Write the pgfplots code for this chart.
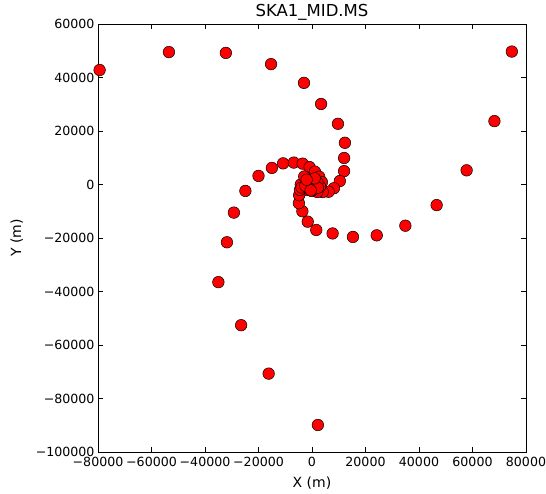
\documentclass[border=0pt]{standalone}
\usepackage{fontspec}
\setmainfont{DejaVu Sans}
\usepackage{pgfplots}
\pgfplotsset{compat=1.18}
\pgfplotstableread{
x y
-79400 42800
-53500 49500
-32200 49200
-15300 45000
-3000 38000
3400 30100
9700 22700
12300 15600
12000 9900
12000 5000
10400 1300
8200 -1400
6200 -2700
4000 -2800
2000 -2800
-100 -2400
-2000 -2000
74700 49700
68200 23700
57800 5300
46600 -7700
34900 -15400
24200 -19000
15300 -19600
7700 -18300
1600 -17000
-1600 -13900
-3600 -10000
-4900 -7000
-4800 -4000
-4500 -2000
-4200 0
-3900 -1100
2200 -89900
-16200 -70700
-26500 -52600
-35000 -36500
-31800 -21600
-29200 -10500
-24900 -2400
-20000 3200
-15000 6200
-10800 7900
-6800 8200
-3500 7800
-900 6500
1100 4800
2700 2900
3700 900
-2900 3000
3000 -800
0 0
800 300
-600 700
-900 -400
300 -900
1500 -200
1200 1200
-300 1600
-1700 500
-1500 -1400
600 -1800
2000 800
2200 -1200
-2500 -500
-500 -2200
1000 2300
-2000 1800
}\ska
\begin{document}
\begin{tikzpicture}
\begin{axis}[
  scale only axis, width=428pt, height=428pt,
  xmin=-80000, xmax=80000, ymin=-100000, ymax=60000,
  scaled ticks=false,
  xtick={-80000,-60000,-40000,-20000,0,20000,40000,60000,80000},
  xticklabels={−80000,−60000,−40000,−20000,0,20000,40000,60000,80000},
  ytick={-100000,-80000,-60000,-40000,-20000,0,20000,40000,60000},
  yticklabels={−100000,−80000,−60000,−40000,−20000,0,20000,40000,60000},
  tick align=inside, major tick length=5pt,
  xtick pos=both, ytick pos=both,
  tick style={black, line width=0.6pt},
  axis line style={line width=0.9pt},
  ticklabel style={font=\fontsize{12.6}{14}\selectfont},
  xticklabel style={yshift=-2pt},
  label style={font=\fontsize{14}{16}\selectfont},
  title style={font=\fontsize{16.5}{18}\selectfont, yshift=-6pt},
  title={SKA1\_MID.MS}, xlabel={X (m)}, ylabel={Y (m)},
  xlabel style={yshift=-3pt},
  ylabel style={yshift=6pt},
]
\coordinate (bl) at (rel axis cs:0,0);
\coordinate (tr) at (rel axis cs:1,1);
\addplot[only marks, mark=*, mark size=5.8pt,
  mark options={fill=red, draw=black, line width=0.5pt}] table[x=x,y=y] {\ska};
\end{axis}
\pgfresetboundingbox
\path[use as bounding box] ([xshift=-98pt,yshift=-41pt]bl) rectangle ([xshift=20pt,yshift=24pt]tr);
\end{tikzpicture}
\end{document}
